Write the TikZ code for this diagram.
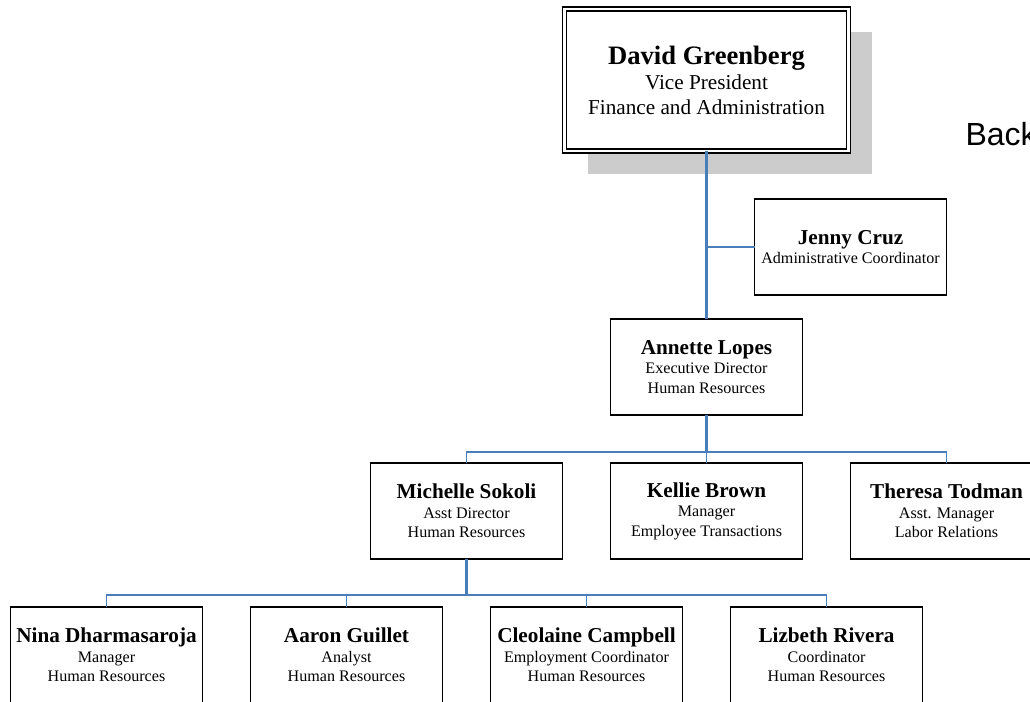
\documentclass[tikz,border=0pt]{standalone}
\usepackage{fontspec}
\setmainfont{Liberation Serif}
\newfontfamily\backfont{Liberation Sans}
\usetikzlibrary{positioning,shadows}
\definecolor{orgblue}{RGB}{74,126,187}
\definecolor{shadowgray}{RGB}{204,204,204}

\begin{document}
\begin{tikzpicture}[x=1pt, y=-1pt,
    person/.style={draw, line width=1.6pt, fill=white, outer sep=0pt, inner sep=0pt,
      minimum width=192pt, minimum height=96pt, align=center,
      font=\fontsize{16.1}{19.5}\selectfont},
    topperson/.style={draw, line width=1.6pt, double=white, double distance=2.2pt,
      fill=white, outer sep=0pt, minimum width=284pt, minimum height=142pt, align=center,
      font=\fontsize{21.2}{25}\selectfont,
      drop shadow={shadow xshift=23pt, shadow yshift=-23pt, fill=shadowgray, opacity=1}},
    trunk/.style={orgblue, line width=2.4pt},
    branch/.style={orgblue, line width=1.6pt}]
    \useasboundingbox (0,0) rectangle (1030,701);

    \node[topperson] (dgreenberg) at (706.5,80)
      {{\fontsize{26.6}{25}\selectfont\bfseries David Greenberg}\\Vice President\\Finance and Administration};
    \node[person, below right=48pt and 48pt of dgreenberg.south] (jcruz)
      {{\fontsize{21.2}{20}\selectfont\bfseries Jenny Cruz}\\Administrative Coordinator};
    \node[person, below=168pt of dgreenberg] (alopes)
      {{\fontsize{21.2}{20}\selectfont\bfseries Annette Lopes}\\Executive Director\\Human Resources};

    \node[person, below=48pt of alopes] (kbrown)
      {{\fontsize{21.2}{20}\selectfont\bfseries Kellie Brown}\\Manager\\Employee Transactions};
    \node[person, left=48pt of kbrown] (msokoli)
      {{\fontsize{21.2}{20}\selectfont\bfseries Michelle Sokoli}\\Asst Director\\Human Resources};
    \node[person, right=48pt of kbrown] (ttodman)
      {{\fontsize{21.2}{20}\selectfont\bfseries Theresa Todman}\\Asst. Manager\\Labor Relations};

    \node[person, below=48pt of msokoli, xshift=-120pt] (aguillet)
      {{\fontsize{21.2}{20}\selectfont\bfseries Aaron Guillet}\\Analyst\\Human Resources};
    \node[person, left=48pt of aguillet] (ndharmasaroja)
      {{\fontsize{21.2}{20}\selectfont\bfseries Nina Dharmasaroja}\\Manager\\Human Resources};
    \node[person, right=48pt of aguillet] (ccampbell)
      {{\fontsize{21.2}{20}\selectfont\bfseries Cleolaine Campbell}\\Employment Coordinator\\Human Resources};
    \node[person, right=48pt of ccampbell] (lrivera)
      {{\fontsize{21.2}{20}\selectfont\bfseries Lizbeth Rivera}\\Coordinator\\Human Resources};

    \node[anchor=base west, font=\backfont\fontsize{32}{38}\selectfont] (backlabel) at (962,145) {Back};

    \coordinate[below=37pt of alopes] (hrbus);
    \coordinate[below=36pt of msokoli] (staffbus);

    \draw[trunk] (dgreenberg) -- (alopes);
    \draw[branch] (jcruz.west) -- (jcruz.west -| dgreenberg.south);
    \draw[trunk] (alopes) -- (hrbus);
    \draw[branch] (msokoli.north) |- (hrbus) -| (ttodman.north);
    \draw[branch] (kbrown.north) -- (hrbus);
    \draw[trunk] (msokoli) -- (staffbus);
    \draw[branch] (ndharmasaroja.north) |- (staffbus) -| (lrivera.north);
    \draw[branch] (aguillet.north) -- (aguillet.north |- staffbus);
    \draw[branch] (ccampbell.north) -- (ccampbell.north |- staffbus);
\end{tikzpicture}
\end{document}
